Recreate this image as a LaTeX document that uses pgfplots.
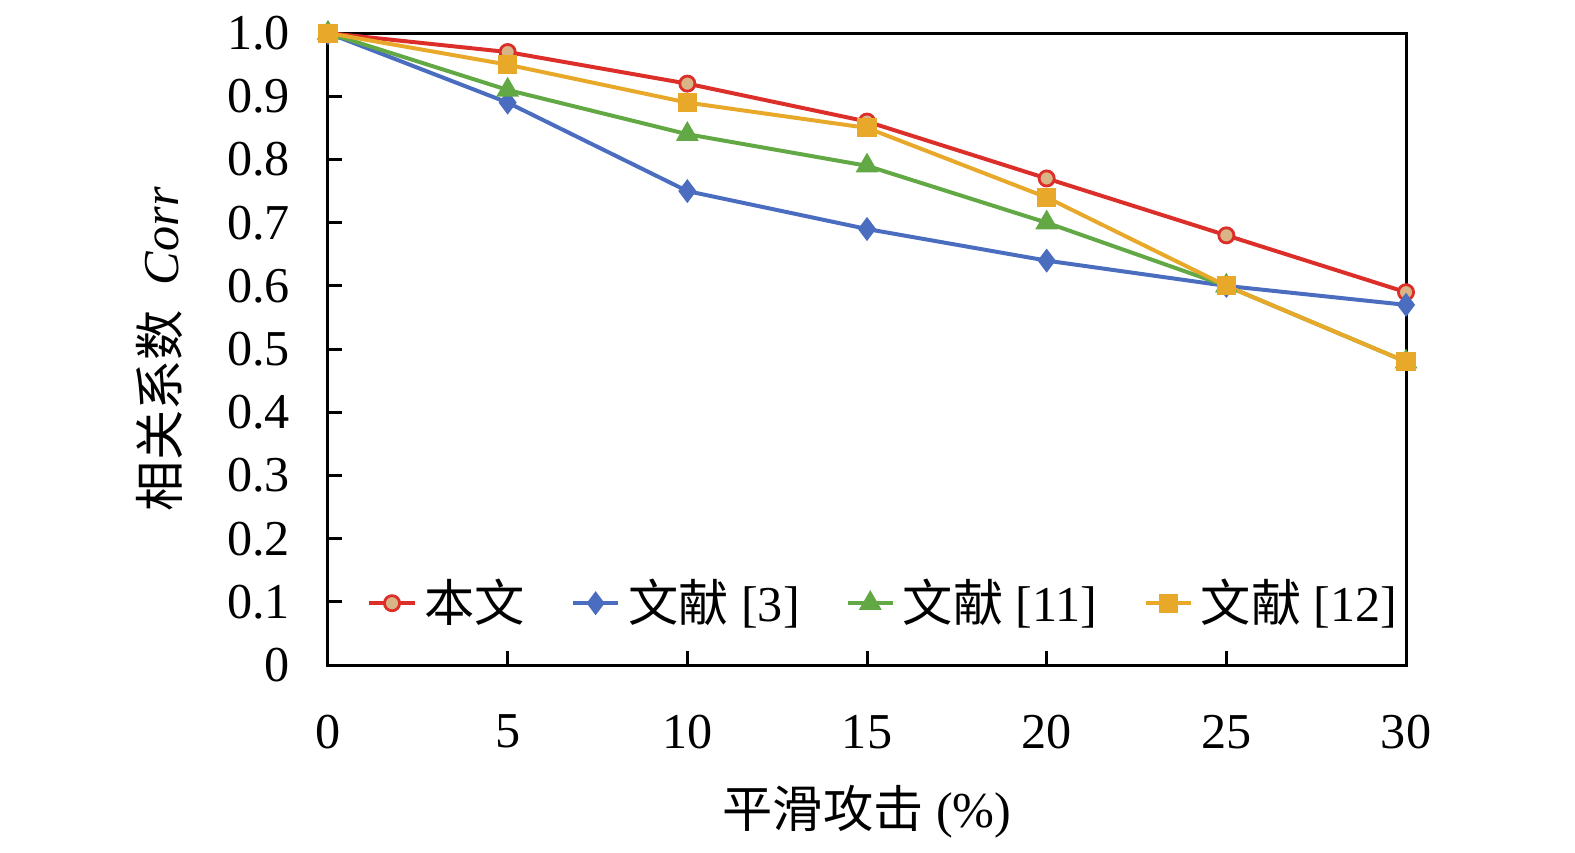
\documentclass[border=0pt]{standalone}
\usepackage{pgfplots}
\pgfplotsset{compat=1.18}
\usepackage{fontspec}
\setmainfont{Liberation Serif}
\newfontfamily\cjk{Noto Sans CJK SC}
\definecolor{cred}{HTML}{DC2F2A}
\definecolor{ctan}{HTML}{D9B486}
\definecolor{cblue}{HTML}{4A6DC0}
\definecolor{cgreen}{HTML}{62A844}
\definecolor{cyel}{HTML}{E8A92A}
\begin{document}
\begin{tikzpicture}
\begin{axis}[
  name=ax,
  scale only axis,
  width=270.5pt, height=158.6pt,
  xmin=0, xmax=30, ymin=0, ymax=1,
  xtick={0,5,10,15,20,25,30},
  ytick={0,0.1,0.2,0.3,0.4,0.5,0.6,0.7,0.8,0.9,1.0},
  yticklabels={0,0.1,0.2,0.3,0.4,0.5,0.6,0.7,0.8,0.9,1.0},
  tick align=inside,
  xtick pos=bottom, ytick pos=left,
  major tick length=3.5pt,
  axis line style={line width=0.75pt},
  every tick/.style={black, line width=0.75pt},
  /pgf/number format/assume math mode=true,
  ticklabel style={font=\fontsize{12.6}{14}\selectfont},
  xticklabel style={yshift=-9pt},
  yticklabel style={xshift=-6pt},
  xlabel={{\cjk 平滑攻击} (\%)},
  xlabel style={at={(axis description cs:0.5,-0.2326)}, anchor=center, font=\fontsize{12.6}{14}\selectfont},
  ylabel={{\cjk 相关系数}\ \ \textit{Corr}},
  ylabel style={at={(axis description cs:-0.156,0.5)}, anchor=center, font=\fontsize{12.6}{14}\selectfont},
  legend columns=4,
  legend style={at={(axis description cs:0.518,0.098)}, anchor=center, draw=none, fill=none,
    font=\fontsize{12.6}{14}\selectfont,
    /tikz/every even column/.append style={column sep=9.5pt}},
  legend image code/.code={\draw[mark repeat=2,mark phase=2] plot coordinates {(0cm,0cm)(0.2cm,0cm)(0.4cm,0cm)};},
  every axis plot/.append style={line width=1pt},
  clip=false,
]
\addplot[color=cred, mark=*, mark size=1.9pt, mark options={fill=ctan, draw=cred, line width=0.7pt}]
  coordinates {(0,1.0)(5,0.97)(10,0.92)(15,0.86)(20,0.77)(25,0.68)(30,0.59)};
\addlegendentry{\cjk 本文}
\addplot[color=cblue, mark=diamond*, mark size=2.2pt, mark options={fill=cblue, draw=cblue}]
  coordinates {(0,1.0)(5,0.89)(10,0.75)(15,0.69)(20,0.64)(25,0.60)(30,0.57)};
\addlegendentry{{\cjk 文献} [3]}
\addplot[color=cgreen, mark=triangle*, mark size=2.3pt, mark options={fill=cgreen, draw=cgreen}]
  coordinates {(0,1.0)(5,0.91)(10,0.84)(15,0.79)(20,0.70)(25,0.60)(30,0.48)};
\addlegendentry{{\cjk 文献} [11]}
\addplot[color=cyel, mark=square*, mark size=1.9pt, mark options={fill=cyel, draw=cyel}]
  coordinates {(0,1.0)(5,0.95)(10,0.89)(15,0.85)(20,0.74)(25,0.60)(30,0.48)};
\addlegendentry{{\cjk 文献} [12]}
\end{axis}
\pgfresetboundingbox
\path (ax.south west) ++(-82.3pt,-46.9pt) rectangle ([xshift=312.9pt,yshift=166.9pt]ax.south west);
\end{tikzpicture}
\end{document}
